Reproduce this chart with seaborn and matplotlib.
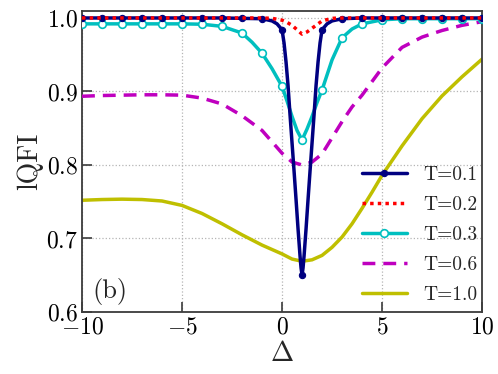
import numpy as np
import pandas as pd
import matplotlib
matplotlib.use("Agg")
import matplotlib.pyplot as plt
from matplotlib.lines import Line2D
import seaborn as sns

# ---------------- data ----------------
labels = ["T=0.1", "T=0.2", "T=0.3", "T=0.6", "T=1.0"]

x_t01 = [-10, -9, -8, -7, -6, -5, -4, -3, -2, -1, -0.5, -0.25, 0, 0.1, 0.2, 0.3, 0.4,
         0.5, 0.6, 0.7, 0.8, 0.9, 0.95, 1.0, 1.05, 1.1, 1.2, 1.3, 1.4, 1.5, 1.6, 1.7,
         1.8, 1.9, 2.0, 2.25, 2.5, 3, 4, 5, 6, 7, 8, 9, 10]
y_t01 = [1.0, 1.0, 1.0, 1.0, 1.0, 1.0, 1.0, 1.0, 0.9995, 0.999, 0.996, 0.992, 0.984,
         0.966, 0.940, 0.908, 0.868, 0.830, 0.792, 0.753, 0.713, 0.676, 0.660, 0.650,
         0.660, 0.676, 0.713, 0.753, 0.792, 0.830, 0.868, 0.908, 0.940, 0.966, 0.984,
         0.992, 0.996, 0.999, 1.0, 1.0, 1.0, 1.0, 1.0, 1.0, 1.0]

x_t02 = [-10, -8, -6, -4, -2, -1, -0.5, 0, 0.25, 0.5, 0.75, 1.0, 1.25, 1.5, 1.75,
         2.0, 2.5, 3, 4, 6, 8, 10]
y_t02 = [1.0, 1.0, 1.0, 1.0, 1.0, 1.0, 0.9995, 0.997, 0.994, 0.990, 0.984, 0.978,
         0.981, 0.986, 0.991, 0.996, 0.9995, 1.0, 1.0, 1.0, 1.0, 1.0]

x_t03 = [-10, -9, -8, -7, -6, -5, -4, -3, -2, -1.5, -1, -0.5, 0, 0.25, 0.5, 0.75,
         1, 1.25, 1.5, 1.75, 2, 2.5, 3, 3.5, 4, 5, 6, 7, 8, 9, 10]
y_t03 = [0.992, 0.992, 0.992, 0.992, 0.992, 0.992, 0.9915, 0.9886, 0.9795, 0.967,
         0.952, 0.931, 0.907, 0.887, 0.866, 0.847, 0.834, 0.849, 0.866, 0.885, 0.902,
         0.943, 0.973, 0.985, 0.992, 0.9975, 0.999, 0.999, 0.999, 0.999, 0.999]

x_t06 = [-10, -9, -8, -7, -6, -5, -4, -3, -2, -1, 0, 0.5, 1, 1.5, 2, 2.5, 3, 3.5, 4,
         5, 6, 7, 8, 9, 10]
y_t06 = [0.8935, 0.8945, 0.895, 0.8955, 0.8955, 0.895, 0.891, 0.883, 0.867, 0.847,
         0.816, 0.804, 0.800, 0.804, 0.815, 0.837, 0.859, 0.879, 0.895, 0.932, 0.960,
         0.974, 0.983, 0.990, 0.995]

x_t10 = [-10, -9, -8, -7, -6, -5, -4, -3, -2, -1, 0, 0.5, 1, 1.5, 2, 2.5, 3, 3.5, 4,
         4.5, 5, 6, 7, 8, 9, 10]
y_t10 = [0.752, 0.753, 0.7535, 0.753, 0.751, 0.745, 0.734, 0.720, 0.705, 0.691,
         0.679, 0.672, 0.669, 0.671, 0.677, 0.688, 0.702, 0.720, 0.741, 0.763, 0.786,
         0.826, 0.863, 0.894, 0.920, 0.944]

xticks = [-10, -5, 0, 5, 10]
yticks = [0.6, 0.7, 0.8, 0.9, 1.0]

# ---------------- style ----------------
sns.set_theme(style="white")
plt.rcParams.update({
    "font.family": ["cmr10", "DejaVu Serif"],
    "mathtext.fontset": "cm",
    "axes.formatter.use_mathtext": True,
    "axes.unicode_minus": True,
    "axes.edgecolor": "#3c3c3c",
    "axes.linewidth": 1.3,
})

c_blue = "#000080"
c_red = "red"
c_cyan = (0, 0.75, 0.75)
c_mag = (0.75, 0, 0.75)
c_yel = (0.75, 0.75, 0)
lw = 2.5

fig = plt.figure(figsize=(4.98, 3.74), dpi=100)
ax = fig.add_axes([0.1647, 0.1658, 0.8033, 0.8048])

def idx_int(xs):
    return [i for i, v in enumerate(xs) if float(v).is_integer()]

df01 = pd.DataFrame({"x": x_t01, "y": y_t01})
df02 = pd.DataFrame({"x": x_t02, "y": y_t02})
df03 = pd.DataFrame({"x": x_t03, "y": y_t03})
df06 = pd.DataFrame({"x": x_t06, "y": y_t06})
df10 = pd.DataFrame({"x": x_t10, "y": y_t10})

blue_m = dict(marker="o", markersize=4.5, markeredgecolor=c_blue,
              markerfacecolor=c_blue, markeredgewidth=0.8)
cyan_m = dict(marker="o", markersize=5.5, markerfacecolor="white",
              markeredgecolor=c_cyan, markeredgewidth=1.2)
ls_red = (0, (1, 1.2))
ls_mag = (0, (3.7, 2.3))

sns.lineplot(data=df01, x="x", y="y", ax=ax, color=c_blue, lw=lw,
             markevery=idx_int(x_t01), zorder=5, **blue_m)
sns.lineplot(data=df02, x="x", y="y", ax=ax, color=c_red, lw=lw,
             linestyle=ls_red, zorder=6)
sns.lineplot(data=df03, x="x", y="y", ax=ax, color=c_cyan, lw=lw,
             markevery=idx_int(x_t03), zorder=4, **cyan_m)
sns.lineplot(data=df06, x="x", y="y", ax=ax, color=c_mag, lw=lw,
             linestyle=ls_mag, zorder=3)
sns.lineplot(data=df10, x="x", y="y", ax=ax, color=c_yel, lw=lw, zorder=2)

ax.set_xlim(-10, 10)
ax.set_ylim(0.6, 1.0095)
ax.set_xticks(xticks)
ax.set_yticks(yticks)
ax.set_xticklabels([f"${v}$" for v in xticks])
ax.set_yticklabels([f"${v:.1f}$" for v in yticks])
ax.tick_params(axis="both", which="major", direction="in", length=7, width=1.2,
               labelsize=17, pad=3, colors="#3c3c3c", labelcolor="black",
               bottom=True, left=True, top=False, right=False)
ax.grid(True, linestyle=":", color="#b5b5b5", lw=0.9)

ax.set_xlabel(r"$\Delta$", fontsize=20, labelpad=2)
ax.set_ylabel("lQFI", fontsize=20, labelpad=2)

ax.text(0.025, 0.023, "(b)", transform=ax.transAxes, fontsize=19,
        ha="left", va="bottom")

handles = [
    Line2D([], [], color=c_blue, lw=lw, **blue_m),
    Line2D([], [], color=c_red, lw=lw, linestyle=ls_red),
    Line2D([], [], color=c_cyan, lw=lw, **cyan_m),
    Line2D([], [], color=c_mag, lw=lw, linestyle=ls_mag),
    Line2D([], [], color=c_yel, lw=lw),
]
leg = ax.legend(handles, labels, loc="lower right", frameon=False, fontsize=14,
                handlelength=2.3, handletextpad=0.85, labelspacing=0.63,
                numpoints=1, borderaxespad=0.2, bbox_to_anchor=(1.0175, -0.013))

fig.savefig("out.png", dpi=100)
